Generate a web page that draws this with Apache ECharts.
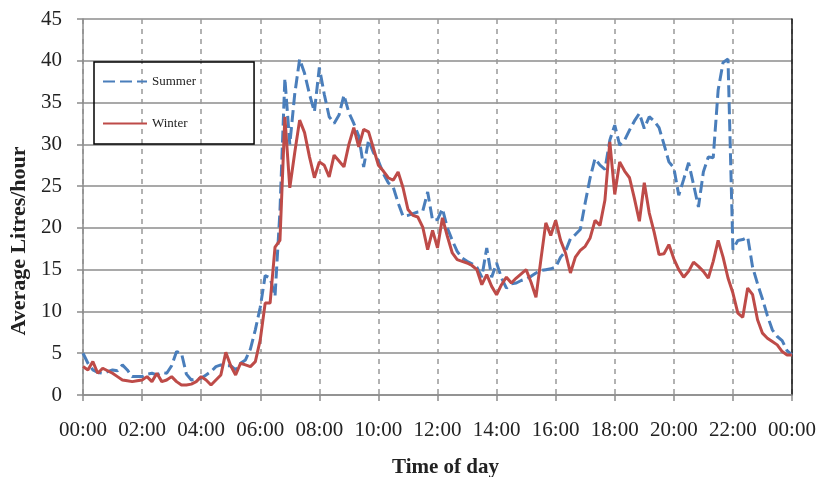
<!DOCTYPE html>
<html>
<head>
<meta charset="utf-8">
<script src="https://cdn.jsdelivr.net/npm/echarts@6/dist/echarts.min.js"></script>
<style>
  html, body { margin: 0; padding: 0; background: #ffffff; }
  #chart { width: 817px; height: 477px; }
</style>
</head>
<body>
<div id="chart"></div>
<script>
// Average hot-water draw per 10-minute slot over one day (litres/hour)
const timeTicks = ['00:00', '02:00', '04:00', '06:00', '08:00', '10:00', '12:00',
                   '14:00', '16:00', '18:00', '20:00', '22:00', '00:00'];
const slotsPerHour = 6;   // 10-minute resolution

const summer = [
  5.0, 3.8, 3.0, 2.7, 2.6, 2.8,
  3.0, 2.9, 3.6, 3.0, 2.2, 2.2,
  2.2, 2.5, 2.6, 2.4, 2.7, 2.6,
  3.5, 5.2, 5.0, 2.5, 1.8, 1.9,
  2.0, 2.4, 2.8, 3.4, 3.6, 3.5,
  3.5, 3.0, 3.8, 4.2, 5.5, 7.8,
  10.5, 14.3, 14.0, 11.8, 22.0, 37.9,
  30.0, 36.0, 40.2, 38.5, 36.0, 33.9,
  39.2, 36.0, 33.3, 32.5, 33.5, 35.9,
  33.8, 32.5, 31.0, 27.3, 30.5, 29.0,
  28.0, 26.5, 25.4, 24.9, 23.0, 21.4,
  21.5, 21.7, 21.9, 22.0, 24.3, 20.9,
  21.0, 22.3, 20.0, 18.5, 17.2, 16.4,
  16.0, 15.7, 15.3, 14.1, 17.6, 14.1,
  15.8, 14.0, 12.8, 13.3, 13.4, 13.7,
  13.9, 14.2, 14.6, 14.9, 15.0, 15.1,
  15.3, 16.5, 17.2, 18.7, 19.2, 19.8,
  23.0, 26.0, 28.3, 27.5, 27.0, 30.5,
  32.3, 29.9, 30.5, 31.7, 32.8, 33.7,
  31.9, 33.3, 32.8, 32.0, 30.0, 27.9,
  27.2, 23.9, 25.8, 27.8, 25.2, 22.5,
  26.7, 28.5, 28.4, 36.5, 39.8, 40.2,
  17.4, 18.5, 18.6, 18.9, 15.3, 13.3,
  11.5, 9.5, 7.8, 7.0, 6.5, 5.3,
  4.8
];

const winter = [
  3.4, 3.0, 4.0, 2.6, 3.2, 2.9,
  2.6, 2.2, 1.8, 1.7, 1.6, 1.7,
  1.8, 2.2, 1.6, 2.6, 1.6, 1.8,
  2.2, 1.6, 1.2, 1.2, 1.3, 1.6,
  2.2, 1.8, 1.2, 1.8, 2.4, 5.1,
  3.5, 2.4, 3.8, 3.6, 3.4, 4.0,
  6.6, 11.0, 11.0, 17.7, 18.5, 33.3,
  24.8, 29.0, 32.9, 31.4, 28.5, 26.0,
  27.9, 27.5, 26.1, 28.7, 28.0, 27.3,
  30.0, 32.0, 29.7, 31.8, 31.5, 29.5,
  27.5, 26.8, 26.0, 25.7, 26.7, 24.8,
  22.2, 21.5, 21.3, 20.1, 17.4, 19.7,
  17.6, 21.2, 19.0, 17.0, 16.2, 16.0,
  15.8, 15.5, 15.0, 13.2, 14.4, 13.0,
  12.0, 13.2, 14.1, 13.4, 14.0, 14.5,
  15.0, 13.5, 11.7, 16.2, 20.6, 19.1,
  20.9, 18.5, 17.0, 14.6, 16.5, 17.3,
  17.8, 18.8, 20.9, 20.3, 23.3, 30.3,
  24.0, 27.9, 26.8, 26.0, 23.5, 20.8,
  25.4, 21.8, 19.5, 16.8, 16.9, 18.0,
  16.3, 15.0, 14.1, 14.8, 15.9, 15.4,
  14.8, 14.0, 16.0, 18.5, 16.5, 14.0,
  12.2, 9.8, 9.3, 12.8, 12.0, 9.0,
  7.4, 6.8, 6.4, 6.0, 5.2, 4.8,
  4.8
];

// time-slot categories: 00:00, 00:10, ... 23:50, 00:00
const pad = n => String(n).padStart(2, '0');
const slots = summer.map((_, i) =>
  pad(Math.floor(i / slotsPerHour) % 24) + ':' + pad((i % slotsPerHour) * 10));
const tickEvery = 2 * slotsPerHour;

const serif = '"Liberation Serif", "DejaVu Serif", serif';
const gridGrey = '#8c8c8c';

const chart = echarts.init(document.getElementById('chart'), null, { renderer: 'canvas' });
chart.setOption({
  animation: false,
  backgroundColor: '#ffffff',
  grid: { left: 83, right: 25, top: 19, bottom: 82, outerBoundsMode: 'none' },
  legend: {
    orient: 'vertical',
    left: 94,
    top: 62,
    padding: [13, 58, 14, 8],
    itemWidth: 44,
    itemHeight: 14,
    itemGap: 29,
    borderColor: '#000000',
    borderWidth: 1.5,
    itemStyle: { opacity: 0 },
    textStyle: { fontFamily: serif, fontSize: 13, color: '#222222' },
    data: ['Summer', 'Winter']
  },
  xAxis: {
    type: 'category',
    data: slots,
    boundaryGap: false,
    name: 'Time of day',
    nameLocation: 'middle',
    nameGap: 62,
    nameTextStyle: { fontFamily: serif, fontSize: 21, fontWeight: 'bold', color: '#222222', padding: [0, 0, 0, 16] },
    axisLine: { lineStyle: { color: gridGrey, width: 1.5 } },
    axisTick: { interval: tickEvery - 1, length: 6, lineStyle: { color: gridGrey, width: 1.5 } },
    axisLabel: {
      interval: tickEvery - 1,
      margin: 25,
      fontFamily: serif,
      fontSize: 21,
      color: '#222222',
      formatter: (v, i) => timeTicks[Math.round(i / tickEvery)]
    },
    splitLine: {
      show: true,
      interval: tickEvery - 1,
      lineStyle: { color: '#999999', width: 1.5, type: [5, 5] }
    }
  },
  yAxis: [{
    type: 'value',
    min: 0,
    max: 45,
    interval: 5,
    name: 'Average Litres/hour',
    nameLocation: 'middle',
    nameGap: 51,
    nameTextStyle: { fontFamily: serif, fontSize: 22, fontWeight: 'bold', color: '#222222', padding: [0, 68, 0, 0] },
    axisLine: { show: true, lineStyle: { color: gridGrey, width: 1.5 } },
    axisTick: { show: true, length: 6, lineStyle: { color: gridGrey, width: 1.5 } },
    axisLabel: { margin: 21, fontFamily: serif, fontSize: 21, color: '#222222' },
    splitLine: { show: true, lineStyle: { color: gridGrey, width: 1.5 } }
  }, {
    type: 'value',
    position: 'right',
    min: 0,
    max: 45,
    interval: 5,
    axisLine: { show: true, onZero: false, lineStyle: { color: '#111111', width: 1.5 } },
    axisTick: { show: false },
    axisLabel: { show: false },
    splitLine: { show: false }
  }],
  series: [{
    name: 'Summer',
    type: 'line',
    data: summer,
    showSymbol: false,
    symbol: 'none',
    lineStyle: { color: '#4a7ebb', width: 3, type: [12, 5] },
    itemStyle: { color: '#4a7ebb' }
  }, {
    name: 'Winter',
    type: 'line',
    data: winter,
    showSymbol: false,
    symbol: 'none',
    lineStyle: { color: '#be4b48', width: 3 },
    itemStyle: { color: '#be4b48' }
  }]
});
</script>
</body>
</html>
